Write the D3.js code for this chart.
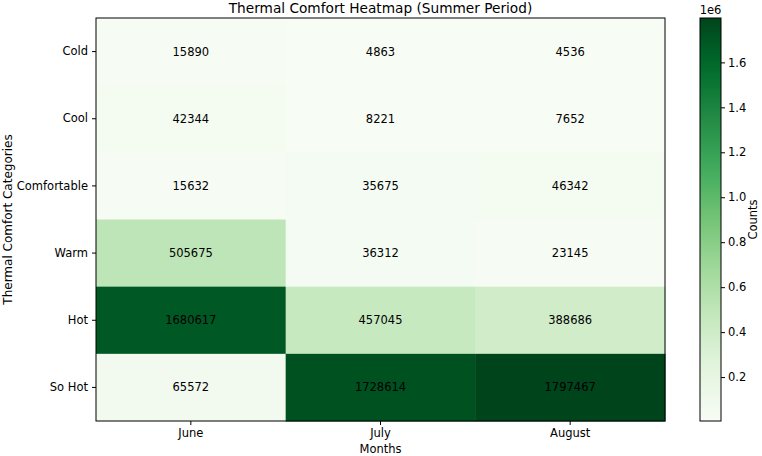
<!DOCTYPE html>
<html>
<head>
<meta charset="UTF-8">
<title>Thermal Comfort Heatmap</title>
<script src="https://cdn.jsdelivr.net/npm/d3@7"></script>
<style type="text/css">
body { margin: 0; background: #fff; }
svg { font-family: "DejaVu Sans", sans-serif; }
</style>
</head>
<body>
<div class="chart"></div>
<script>
// data
var months = ["June", "July", "August"];
var categories = ["Cold", "Cool", "Comfortable", "Warm", "Hot", "So Hot"];
var june = [15890, 42344, 15632, 505675, 1680617, 65572];
var july = [4863, 8221, 35675, 36312, 457045, 1728614];
var august = [4536, 7652, 46342, 23145, 388686, 1797467];
var cbTicks = [0.2, 0.4, 0.6, 0.8, 1.0, 1.2, 1.4, 1.6];

var series = [june, july, august];
var cells = [];
months.forEach(function(m, i) {
	categories.forEach(function(c, j) {
		cells.push({month: m, cat: c, value: series[i][j]});
	});
});

var svg = d3.select(".chart")
	.append("svg")
	.attr("width", 762)
	.attr("height", 456);

var pLeft = 96, pTop = 18, pRight = 665, pBottom = 421;

var x = d3.scaleBand().domain(months).range([pLeft, pRight]);
var y = d3.scaleBand().domain(categories).range([pTop, pBottom]);

var all = june.concat(july, august);
var vmin = d3.min(all), vmax = d3.max(all);
var greens = ["#f7fcf5","#e5f5e0","#c7e9c0","#a1d99b","#74c476","#41ab5d","#238b45","#006d2c","#00441b"];
var interp = d3.piecewise(d3.interpolateRgb, greens);
var color = d3.scaleSequential(interp).domain([vmin, vmax]);

svg.selectAll("rect.cell")
	.data(cells)
	.enter()
	.append("rect")
	.attr("class", "cell")
	.attr("x", function(d) { return x(d.month); })
	.attr("y", function(d) { return y(d.cat); })
	.attr("width", x.bandwidth() + 0.5)
	.attr("height", y.bandwidth() + 0.5)
	.attr("fill", function(d) { return color(d.value); });

svg.selectAll("text.val")
	.data(cells)
	.enter()
	.append("text")
	.attr("class", "val")
	.attr("x", function(d) { return x(d.month) + x.bandwidth() / 2; })
	.attr("y", function(d) { return y(d.cat) + y.bandwidth() / 2; })
	.attr("text-anchor", "middle")
	.attr("dominant-baseline", "central")
	.attr("font-size", 11.5)
	.attr("fill", "#000")
	.text(function(d) { return d.value; });

svg.append("rect")
	.attr("x", pLeft).attr("y", pTop)
	.attr("width", pRight - pLeft).attr("height", pBottom - pTop)
	.attr("fill", "none").attr("stroke", "#000").attr("stroke-width", 1);

var xAxis = svg.append("g")
	.attr("transform", "translate(0," + pBottom + ")")
	.call(d3.axisBottom(x).tickSizeOuter(0).tickSize(4).tickPadding(4));
var yAxis = svg.append("g")
	.attr("transform", "translate(" + pLeft + ",0)")
	.call(d3.axisLeft(y).tickSizeOuter(0).tickSize(4).tickPadding(4));
[xAxis, yAxis].forEach(function(g) {
	g.select(".domain").remove();
	g.selectAll("text").attr("font-size", 11.5).attr("font-family", "DejaVu Sans").attr("fill", "#000");
	g.selectAll("line").attr("stroke", "#000");
});

svg.append("text")
	.attr("x", (pLeft + pRight) / 2).attr("y", 13)
	.attr("text-anchor", "middle")
	.attr("font-size", 13.7)
	.text("Thermal Comfort Heatmap (Summer Period)");

svg.append("text")
	.attr("x", (pLeft + pRight) / 2).attr("y", 453)
	.attr("text-anchor", "middle")
	.attr("font-size", 11.5)
	.text("Months");

svg.append("text")
	.attr("transform", "translate(12," + ((pTop + pBottom) / 2) + ") rotate(-90)")
	.attr("text-anchor", "middle")
	.attr("font-size", 12)
	.text("Thermal Comfort Categories");

// colorbar
var cbX = 700, cbW = 21;
var cbScale = d3.scaleLinear().domain([vmin, vmax]).range([pBottom, pTop]);
var defs = svg.append("defs");
var grad = defs.append("linearGradient")
	.attr("id", "cbgrad")
	.attr("x1", 0).attr("y1", 1).attr("x2", 0).attr("y2", 0);
d3.range(0, 1.0001, 0.05).forEach(function(t) {
	grad.append("stop").attr("offset", t).attr("stop-color", interp(t));
});
svg.append("rect")
	.attr("x", cbX).attr("y", pTop)
	.attr("width", cbW).attr("height", pBottom - pTop)
	.attr("fill", "url(#cbgrad)")
	.attr("stroke", "#000").attr("stroke-width", 1);

var cbAxis = svg.append("g")
	.attr("transform", "translate(" + (cbX + cbW) + ",0)")
	.call(d3.axisRight(cbScale)
		.tickValues(cbTicks.map(function(t) { return t * 1e6; }))
		.tickFormat(function(d) { return d3.format(".1f")(d / 1e6); })
		.tickSize(4).tickPadding(3));
cbAxis.select(".domain").remove();
cbAxis.selectAll("text").attr("font-size", 11.5).attr("font-family", "DejaVu Sans").attr("fill", "#000");
cbAxis.selectAll("line").attr("stroke", "#000");

svg.append("text")
	.attr("x", cbX + cbW / 2).attr("y", 14)
	.attr("text-anchor", "middle")
	.attr("font-size", 11.5)
	.text("1e6");

svg.append("text")
	.attr("transform", "translate(757," + ((pTop + pBottom) / 2) + ") rotate(-90)")
	.attr("text-anchor", "middle")
	.attr("font-size", 11.5)
	.text("Counts");
</script>
</body>
</html>
